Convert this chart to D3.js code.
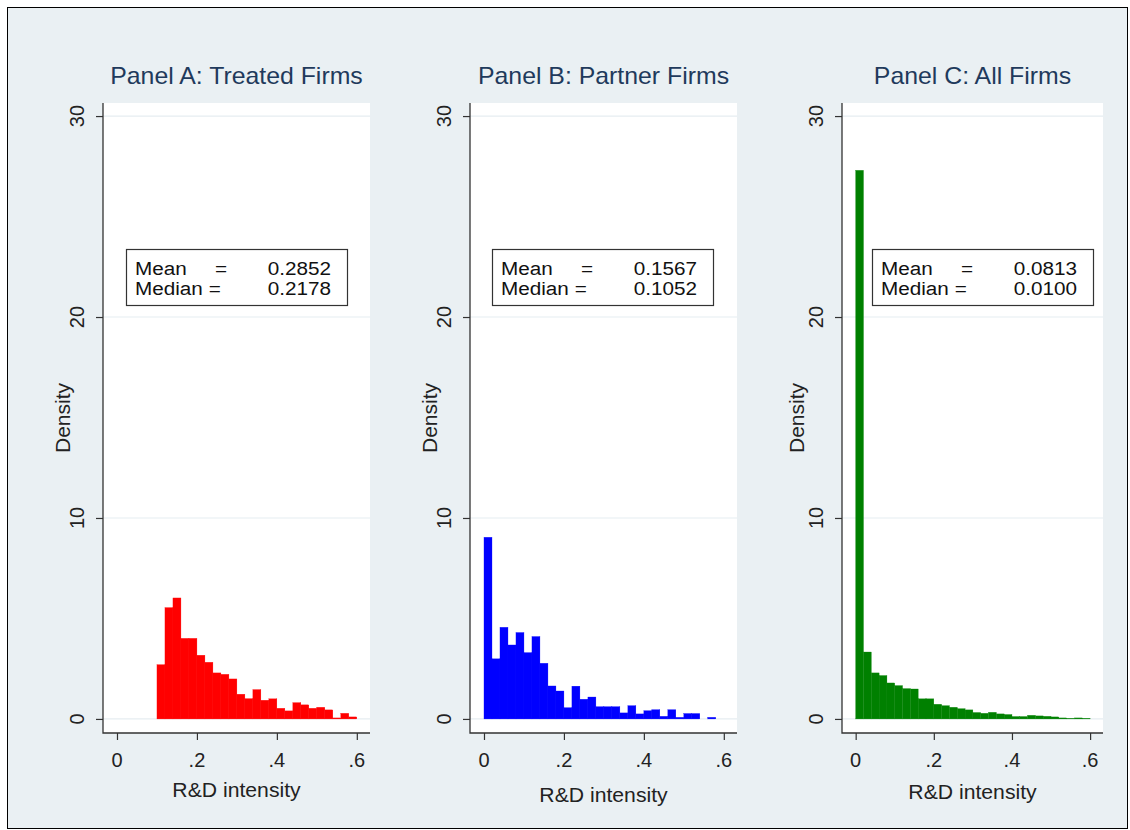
<!DOCTYPE html>
<html>
<head>
<style>
body { margin: 0; background: #ffffff; }
text { font-family: "Liberation Sans", Arial, sans-serif; }
</style>
</head>
<body>
<svg id="chart" width="1130" height="830"></svg>
<script src="https://d3js.org/d3.v7.min.js"></script>
<script>
    // histogram data (density per 0.02 bin)
    const binWidth = 0.02;
    const panelTitles = ["Panel A: Treated Firms", "Panel B: Partner Firms", "Panel C: All Firms"];
    const binStarts = [0.10, 0.00, 0.00];
    const treatedDensity = [2.70, 5.54, 6.02, 4.01, 4.01, 3.17, 2.82, 2.29, 2.22, 1.99, 1.23, 1.01, 1.46,
                            0.93, 1.00, 0.53, 0.40, 0.81, 0.70, 0.53, 0.58, 0.45, 0.05, 0.28, 0.10];
    const partnerDensity = [9.04, 2.99, 4.56, 3.68, 4.30, 3.30, 4.10, 2.77, 1.64, 1.39, 0.56, 1.63, 0.98,
                            1.09, 0.61, 0.61, 0.61, 0.30, 0.66, 0.25, 0.41, 0.46, 0.13, 0.46, 0.08,
                            0.27, 0.27, 0, 0.08];
    const allDensity = [27.3, 3.33, 2.29, 2.16, 1.79, 1.66, 1.51, 1.49, 1.00, 1.00, 0.73, 0.66, 0.58,
                        0.51, 0.45, 0.32, 0.28, 0.33, 0.25, 0.22, 0.12, 0.12, 0.18, 0.15, 0.13,
                        0.10, 0.05, 0.03, 0.05, 0.03];
    const means = ["0.2852", "0.1567", "0.0813"];
    const medians = ["0.2178", "0.1052", "0.0100"];
    const xTicks = [0, 0.2, 0.4, 0.6];
    const yTicks = [0, 10, 20, 30];
    const barColors = ["#ff0000", "#0000ff", "#008000"];

    const densities = [treatedDensity, partnerDensity, allDensity];

    // layout of each panel (screen pixels)
    const panels = [
        {left: 103, right: 370, ylabDx: 33, xlabY: 797, legendDx: 23},
        {left: 470, right: 737, ylabDx: 33, xlabY: 802, legendDx: 22},
        {left: 842, right: 1103, ylabDx: 38, xlabY: 799, legendDx: 30}
    ];
    const plotTop = 103, plotBottom = 733;

    const svg = d3.select("#chart");

    svg.append("rect")
        .attr("x", 7.5).attr("y", 7.5)
        .attr("width", 1120).attr("height", 821)
        .style("fill", "#eaf0f3")
        .style("stroke", "#000")
        .style("stroke-width", 1);

    function label(g, x, y, str, size, sx, anchor, rotate) {
        var t = "translate(" + x + "," + y + ") scale(" + sx + ",1)";
        if (rotate) t += " rotate(-90)";
        return g.append("text")
            .attr("transform", t)
            .attr("text-anchor", anchor)
            .attr("font-size", size + "px")
            .text(str);
    }

    panels.forEach(function(p, k) {
        const g = svg.append("g");
        const x = d3.scaleLinear().domain([-0.035, 0.633]).range([p.left, p.right]);
        const y = d3.scaleLinear().domain([-0.7, 30.65]).range([plotBottom, plotTop]);

        g.append("rect")
            .attr("x", p.left).attr("y", plotTop)
            .attr("width", p.right - p.left).attr("height", plotBottom - plotTop)
            .style("fill", "#ffffff");

        // grid lines
        g.selectAll("line.grid")
            .data(yTicks)
            .enter()
            .append("line")
            .attr("x1", p.left).attr("x2", p.right)
            .attr("y1", d => y(d)).attr("y2", d => y(d))
            .style("stroke", "#e6edf1")
            .style("stroke-width", 1.2);

        // bars
        const bins = densities[k].map((v, i) => ({x0: binStarts[k] + i * binWidth, v: v}));
        g.selectAll("rect.bar")
            .data(bins.filter(d => d.v > 0))
            .enter()
            .append("rect")
            .attr("x", d => x(d.x0))
            .attr("width", d => x(d.x0 + binWidth) - x(d.x0))
            .attr("y", d => y(d.v))
            .attr("height", d => y(0) - y(d.v))
            .style("fill", barColors[k])
            .style("stroke", barColors[k])
            .style("stroke-width", 0.3);

        // axes
        const yAxis = d3.axisLeft(y).tickValues(yTicks).tickSize(7).tickFormat("");
        const yg = g.append("g").attr("transform", "translate(" + p.left + ",0)").call(yAxis);
        const xAxis = d3.axisBottom(x).tickValues(xTicks).tickSize(7).tickFormat("");
        const xg = g.append("g").attr("transform", "translate(0," + plotBottom + ")").call(xAxis);
        [yg, xg].forEach(a => {
            a.select(".domain").attr("d", null);
            a.selectAll("line").style("stroke", "#333").style("stroke-width", 1.2);
        });
        g.append("path")
            .attr("d", "M" + p.left + "," + plotTop + "V" + plotBottom + "H" + p.right)
            .style("fill", "none")
            .style("stroke", "#333")
            .style("stroke-width", 1.3);

        yTicks.forEach(t => {
            label(g, p.left - 19, y(t), String(t), 20, 1, "middle", true).style("fill", "#222");
        });
        xTicks.forEach(t => {
            label(g, x(t), 767, t === 0 ? "0" : d3.format(".1f")(t).replace(/^0/, ""), 20, 1, "middle")
                .style("fill", "#222");
        });

        const cx = (p.left + p.right) / 2;
        label(g, cx, 84, panelTitles[k], 23, 1.08, "middle").style("fill", "#1f3a5c");
        label(g, cx, p.xlabY, "R&D intensity", 20, 1.06, "middle").style("fill", "#222");
        label(g, p.left - p.ylabDx, (plotTop + plotBottom) / 2, "Density", 21, 1, "middle", true)
            .style("fill", "#222");

        // mean / median box
        const bx = p.left + p.legendDx, by = 249;
        g.append("rect")
            .attr("x", bx + 0.5).attr("y", by + 0.5)
            .attr("width", 221).attr("height", 56)
            .style("fill", "#ffffff")
            .style("stroke", "#333")
            .style("stroke-width", 1.2);
        label(g, bx + 9, by + 25.5, "Mean", 19, 1.09, "start").style("fill", "#111");
        label(g, bx + 89, by + 25.5, "=", 19, 1.09, "start").style("fill", "#111");
        label(g, bx + 205, by + 25.5, means[k], 19, 1.09, "end").style("fill", "#111");
        label(g, bx + 9, by + 45.5, "Median =", 19, 1.09, "start").style("fill", "#111");
        label(g, bx + 205, by + 45.5, medians[k], 19, 1.09, "end").style("fill", "#111");
    });
</script>
</body>
</html>
